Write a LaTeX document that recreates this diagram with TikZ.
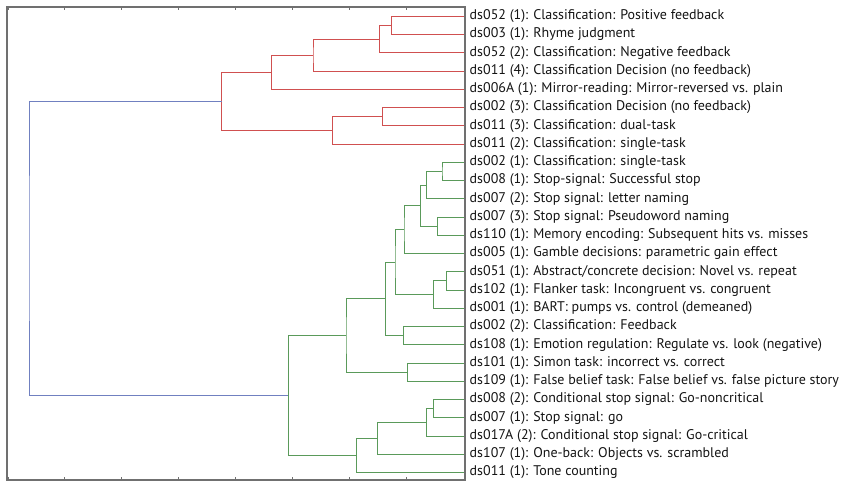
\documentclass[tikz,border=0pt]{standalone}
\usepackage{fontspec}
\setmainfont{PT Sans}
\definecolor{redc}{HTML}{D05050}
\definecolor{greenc}{HTML}{5A9A5A}
\definecolor{bluec}{HTML}{7080C0}
\definecolor{framec}{HTML}{707070}
\begin{document}
\begin{tikzpicture}[x=1pt,y=-1pt,
  lab/.style={anchor=west,inner sep=0pt,font=\fontsize{14}{16}\selectfont,text=black!92},
  redl/.style={draw=redc,line width=1pt},
  greenl/.style={draw=greenc,line width=1pt},
  bluel/.style={draw=bluec,line width=1pt},
  framel/.style={draw=framec,line width=1.2pt},
  tick/.style={draw=framec,line width=0.8pt}]
\useasboundingbox (0,0) rectangle (843,484);
% leaves
\foreach \i/\t in {0/{ds052 (1): Classification: Positive feedback},
1/{ds003 (1): Rhyme judgment},
2/{ds052 (2): Classification: Negative feedback},
3/{ds011 (4): Classification Decision (no feedback)},
4/{ds006A (1): Mirror-reading: Mirror-reversed vs. plain},
5/{ds002 (3): Classification Decision (no feedback)},
6/{ds011 (3): Classification: dual-task},
7/{ds011 (2): Classification: single-task},
8/{ds002 (1): Classification: single-task},
9/{ds008 (1): Stop-signal: Successful stop},
10/{ds007 (2): Stop signal: letter naming},
11/{ds007 (3): Stop signal: Pseudoword naming},
12/{ds110 (1): Memory encoding: Subsequent hits vs. misses},
13/{ds005 (1): Gamble decisions: parametric gain effect},
14/{ds051 (1): Abstract/concrete decision: Novel vs. repeat},
15/{ds102 (1): Flanker task: Incongruent vs. congruent},
16/{ds001 (1): BART: pumps vs. control (demeaned)},
17/{ds002 (2): Classification: Feedback},
18/{ds108 (1): Emotion regulation: Regulate vs. look (negative)},
19/{ds101 (1): Simon task: incorrect vs. correct},
20/{ds109 (1): False belief task: False belief vs. false picture story},
21/{ds008 (2): Conditional stop signal: Go-noncritical},
22/{ds007 (1): Stop signal: go},
23/{ds017A (2): Conditional stop signal: Go-critical},
24/{ds107 (1): One-back: Objects vs. scrambled},
25/{ds011 (1): Tone counting}}{
  \coordinate (L\i) at (465,{16.3+18.25*\i});
  \node[lab] (T\i) at (469.5,{16.3+18.25*\i}) {\t};
}
% red merges
\coordinate (r1) at (391.7,25.43);
\coordinate (r2) at (379.3,39.11);
\coordinate (r3) at (313,55.08);
\coordinate (r4) at (271.7,72.19);
\coordinate (r5) at (382.3,116.68);
\coordinate (r6) at (332.3,130.36);
\coordinate (r7) at (221.7,101.28);
% green merges
\coordinate (g1) at (442,171.43);
\coordinate (g2) at (426.3,185.11);
\coordinate (g3) at (437.7,226.18);
\coordinate (g4) at (420.7,205.65);
\coordinate (g5) at (404,229.6);
\coordinate (g6) at (446.7,280.93);
\coordinate (g7) at (433.3,294.61);
\coordinate (g8) at (395,262.1);
\coordinate (g9) at (403.3,335.68);
\coordinate (g10) at (385.7,298.89);
\coordinate (g11) at (407.3,372.18);
\coordinate (g12) at (346,335.53);
\coordinate (g13) at (433.3,408.68);
\coordinate (g14) at (426.7,422.36);
\coordinate (g15) at (377.7,438.33);
\coordinate (g16) at (356.7,455.44);
\coordinate (g17) at (288.3,395.48);
\coordinate (root) at (29,248.38);
% red links
\foreach \m/\a/\b in {r1/L0/L1, r2/r1/L2, r3/r2/L3, r4/r3/L4, r5/L5/L6, r6/r5/L7, r7/r4/r6}
  \draw[redl] (\a) -| (\m) |- (\b);
% green links
\foreach \m/\a/\b in {g1/L8/L9, g2/g1/L10, g3/L11/L12, g4/g2/g3, g5/g4/L13, g6/L14/L15, g7/g6/L16, g8/g5/g7, g9/L17/L18, g10/g8/g9, g11/L19/L20, g12/g10/g11, g13/L21/L22, g14/g13/L23, g15/g14/L24, g16/g15/L25, g17/g12/g16}
  \draw[greenl] (\a) -| (\m) |- (\b);
% blue root
\draw[bluel] (r7) -| (root) |- (g17);
% frame and ticks
\draw[framel] (7,7) rectangle (465,480);
\foreach \k in {1,...,7}{
  \draw[tick] ({7+57*\k},7) -- ({7+57*\k},10.5);
  \draw[tick] ({7+57*\k},480) -- ({7+57*\k},476.5);
}
\draw[tick] (8.5,7) -- (8.5,10.5);
\draw[tick] (8.5,480) -- (8.5,476.5);
\end{tikzpicture}
\end{document}
